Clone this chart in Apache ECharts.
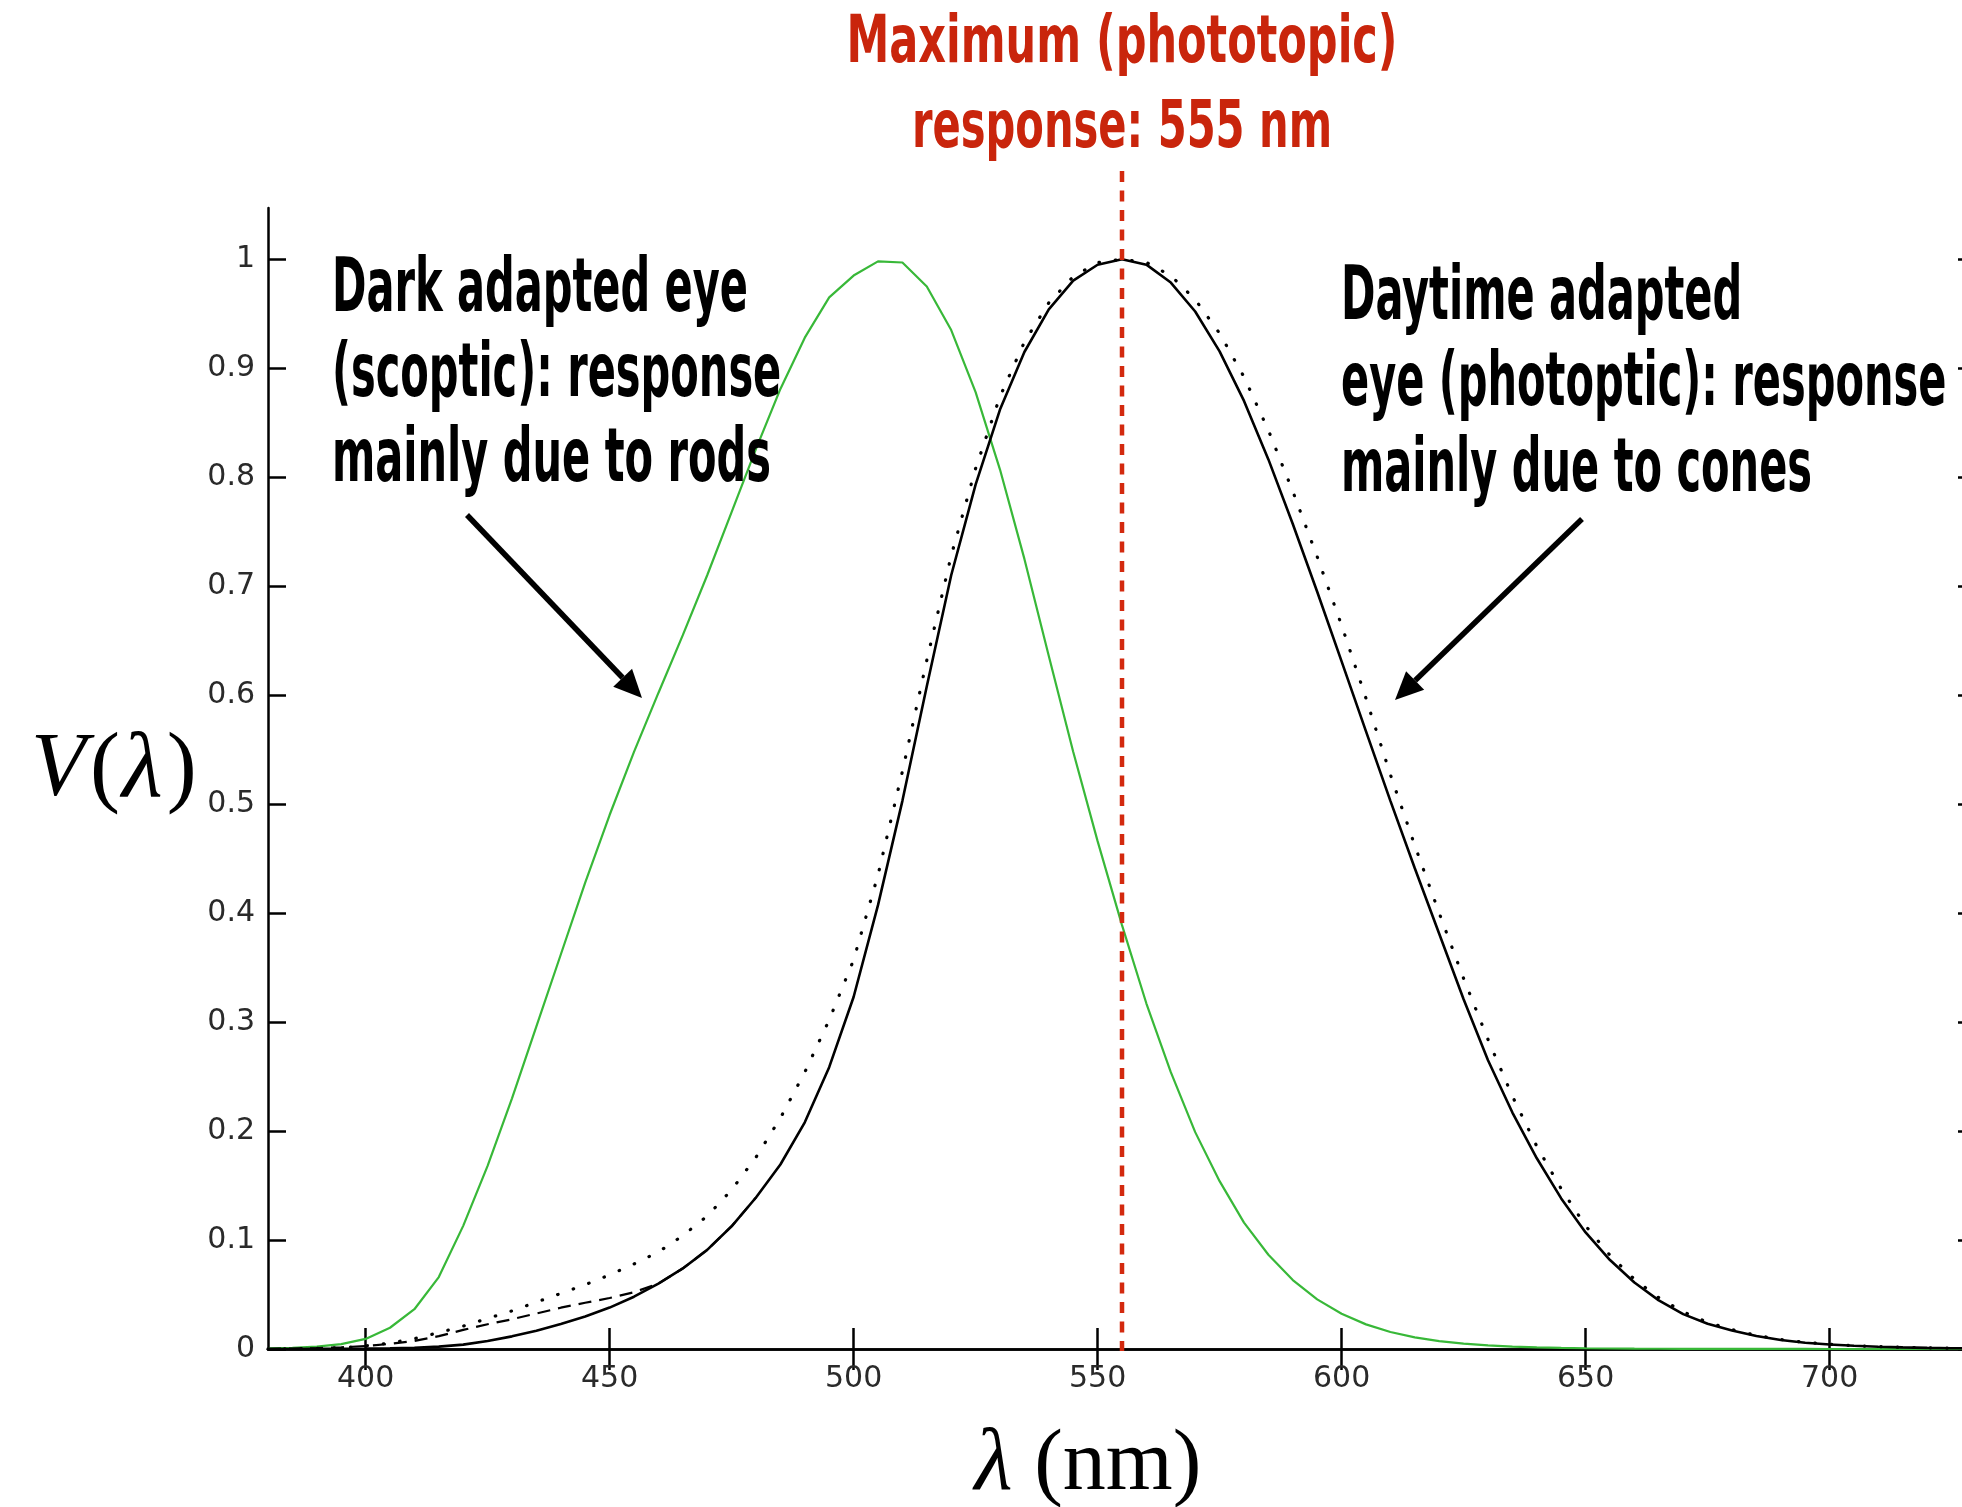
<!DOCTYPE html>
<html><head><meta charset="utf-8">
<script src="https://cdn.jsdelivr.net/npm/echarts@6/dist/echarts.min.js"></script>
<style>html,body{margin:0;padding:0;background:#fff;overflow:hidden}#c{width:1962px;height:1507px}</style>
</head><body><div id="c"></div>
<script>
// wavelengths (nm), 5 nm steps
const wavelengths = [380,385,390,395,400,405,410,415,420,425,430,435,440,445,450,455,460,465,470,475,480,485,490,495,500,505,510,515,520,525,530,535,540,545,550,555,560,565,570,575,580,585,590,595,600,605,610,615,620,625,630,635,640,645,650,655,660,665,670,675,680,685,690,695,700,705,710,715,720,725,730];
// dark adapted (scotopic) response - green
const scotopic = [0.000589,0.001108,0.002209,0.00453,0.00929,0.0195,0.0365,0.066,0.113,0.168,0.23,0.296,0.362,0.428,0.49,0.548,0.602,0.655,0.71,0.768,0.826,0.881,0.928,0.965,0.985,0.998,0.997,0.975,0.935,0.878,0.807,0.725,0.636,0.548,0.466,0.389,0.317,0.254,0.199,0.154,0.116,0.0865,0.0633,0.0455,0.0323,0.0226,0.01563,0.0107,0.00727,0.00492,0.00331,0.00222,0.001497,0.001005,0.000677,0.000459,0.000313,0.000215,0.000148,0.000103,0.000072,0.00005,0.000035,0.000025,0.000018,0.000013,0.000009,0.000007,0.000005,0.000004,0.000003];
// daytime adapted (photopic) response - solid black
const photopic = [0.000039,0.000064,0.00012,0.000217,0.000396,0.00064,0.00121,0.00218,0.004,0.0073,0.0116,0.01684,0.023,0.0298,0.038,0.048,0.06,0.0739,0.09098,0.1126,0.13902,0.1693,0.20802,0.2586,0.323,0.4073,0.503,0.6082,0.71,0.7932,0.862,0.91485,0.954,0.9803,0.99495,1.0,0.995,0.9786,0.952,0.9154,0.87,0.8163,0.757,0.6949,0.631,0.5668,0.503,0.4412,0.381,0.321,0.265,0.217,0.175,0.1382,0.107,0.0816,0.061,0.04458,0.032,0.0232,0.017,0.01192,0.00821,0.005723,0.004102,0.002929,0.002091,0.001484,0.001047,0.00074,0.00052];
// dashed black variant (short-wavelength end)
const dashedWl = [380,385,390,395,400,405,410,415,420,425,430,435,440,445,450,455,460,465,470,475,480];
const dashedV = [0.0002,0.0004,0.0008,0.0015,0.0028,0.0047,0.0074,0.0118,0.0175,0.0227,0.0273,0.0326,0.0379,0.0424,0.0468,0.0521,0.06,0.0739,0.091,0.1126,0.139];
// dotted black variant
const dottedV = [0.0001,0.0002,0.0005,0.0012,0.0028,0.0055,0.0095,0.015,0.021,0.028,0.035,0.043,0.051,0.059,0.068,0.078,0.089,0.104,0.122,0.146,0.176,0.212,0.254,0.302,0.357,0.435,0.53,0.632,0.728,0.808,0.874,0.924,0.96,0.984,0.997,1.0,0.997,0.985,0.963,0.932,0.892,0.843,0.787,0.727,0.664,0.597,0.527,0.462,0.4,0.34,0.284,0.232,0.186,0.147,0.113,0.086,0.064,0.047,0.034,0.0245,0.0178,0.0125,0.0087,0.0061,0.0043,0.0031,0.0022,0.0016,0.0011,0.0008,0.0006];
const xTicks = [400,450,500,550,600,650,700];
const yTicks = [0,0.1,0.2,0.3,0.4,0.5,0.6,0.7,0.8,0.9,1];
const peakWl = 555;

const zip = (xs, ys) => xs.map((x, i) => [x, ys[i]]);
const chart = echarts.init(document.getElementById('c'), null, {renderer: 'canvas'});

const tickFont = {fontFamily: 'DejaVu Sans', fontSize: 30, color: '#2a2a2a'};
const axLine = {show: true, lineStyle: {color: '#000', width: 2.5}};
const yFmt = v => (Math.abs(v) < 1e-9 ? '0' : Math.abs(v - 1) < 1e-9 ? '1' : v.toFixed(1));

chart.setOption({
  animation: false,
  backgroundColor: '#fff',
  grid: {left: 268, width: 1708, top: 208, height: 1141, containLabel: false, outerBoundsMode: 'none'},
  xAxis: [
    {type: 'value', min: 380, max: 730, position: 'bottom', axisLine: axLine,
     axisTick: {show: true, inside: true, length: 21, lineStyle: {color: '#000', width: 2.5}, customValues: xTicks},
     axisLabel: Object.assign({customValues: xTicks, margin: 15}, tickFont), splitLine: {show: false}},
    {type: 'value', min: 380, max: 730, position: 'top', axisLine: axLine,
     axisTick: {show: true, inside: true, length: 21, lineStyle: {color: '#000', width: 2.5}, customValues: xTicks},
     axisLabel: {show: false}, splitLine: {show: false}}
  ],
  yAxis: [
    {type: 'value', min: 0, max: 1.047, position: 'left', axisLine: axLine,
     axisTick: {show: true, inside: true, length: 18, lineStyle: {color: '#000', width: 2.5}, customValues: yTicks},
     axisLabel: Object.assign({customValues: yTicks, margin: 13, formatter: yFmt}, tickFont), splitLine: {show: false}},
    {type: 'value', min: 0, max: 1.047, position: 'right', axisLine: axLine,
     axisTick: {show: true, inside: true, length: 18, lineStyle: {color: '#000', width: 2.5}, customValues: yTicks},
     axisLabel: {show: false}, splitLine: {show: false}}
  ],
  series: [
    {type: 'line', name: 'scotopic', data: zip(wavelengths, scotopic), showSymbol: false, symbol: 'none',
     lineStyle: {color: '#38b838', width: 2.2}, z: 3},
    {type: 'line', name: 'photopic', data: zip(wavelengths, photopic), showSymbol: false, symbol: 'none',
     lineStyle: {color: '#000', width: 2.6}, z: 4},
    {type: 'line', name: 'dashed', data: zip(dashedWl, dashedV), showSymbol: false, symbol: 'none',
     lineStyle: {color: '#000', width: 2.2, type: [13, 8]}, z: 4},
    {type: 'line', name: 'dotted', data: zip(wavelengths, dottedV), showSymbol: false, symbol: 'none',
     lineStyle: {color: '#000', width: 3.2, type: [0.5, 16], cap: 'round'}, z: 4}
  ]
});

// ---- annotations ----
const ctx = document.createElement('canvas').getContext('2d');
const NARROW = '"Liberation Sans Narrow", "DejaVu Sans Condensed", "Arial Narrow", sans-serif';
function fitScale(text, size, target) {
  ctx.font = 'bold ' + size + 'px ' + NARROW;
  return target / ctx.measureText(text).width;
}
const annSize = 74, titleSize = 66;
const annScale = fitScale('Dark adapted eye', annSize, 416);
const titleScale1 = fitScale('Maximum (phototopic)', titleSize, 551);
const titleScale2 = fitScale('response: 555 nm', titleSize, 420);

function line(text, x, baseline, size, scale, color, align) {
  return {type: 'text', x: x, y: baseline, scaleX: scale, z: 100,
    style: {text: text, fontFamily: NARROW, fontWeight: 'bold', fontSize: size, fill: color,
      align: align || 'left', verticalAlign: 'bottom', lineHeight: size}};
}
function arrow(x1, y1, x2, y2) {
  const ang = Math.atan2(y2 - y1, x2 - x1), L = 28, W = 13;
  const bx = x2 - L * Math.cos(ang), by = y2 - L * Math.sin(ang);
  const px = -Math.sin(ang) * W, py = Math.cos(ang) * W;
  return [
    {type: 'line', z: 100, shape: {x1: x1, y1: y1, x2: bx, y2: by}, style: {stroke: '#000', lineWidth: 5.5}},
    {type: 'polygon', z: 100, shape: {points: [[x2, y2], [bx + px, by + py], [bx - px, by - py]]}, style: {fill: '#000'}}
  ];
}

const px555 = chart.convertToPixel({xAxisIndex: 0}, peakWl);
const py0 = chart.convertToPixel({yAxisIndex: 0}, 0);
const red = '#c9250c';
const bs = annSize * 0.2;

const g = [
  {type: 'line', z: 90, shape: {x1: px555, y1: 171, x2: px555, y2: py0 + 2},
   style: {stroke: '#d3290e', lineWidth: 4.5, lineDash: [11, 8.5]}},
  line('Maximum (phototopic)', px555, 65 + titleSize * 0.2, titleSize, titleScale1, red, 'center'),
  line('response: 555 nm', px555, 150 + titleSize * 0.2, titleSize, titleScale2, red, 'center'),
  line('Dark adapted eye', 332, 314 + bs, annSize, annScale, '#000'),
  line('(scoptic): response', 332, 399 + bs, annSize, annScale, '#000'),
  line('mainly due to rods', 332, 484 + bs, annSize, annScale, '#000'),
  line('Daytime adapted', 1341, 322 + bs, annSize, annScale, '#000'),
  line('eye (photoptic): response', 1341, 408 + bs, annSize, annScale, '#000'),
  line('mainly due to cones', 1341, 494 + bs, annSize, annScale, '#000'),
  {type: 'text', x: 31, y: 771, z: 100,
   style: {text: '{v|V}{n|(}{l|λ}{n|)}', verticalAlign: 'middle', align: 'left',
     rich: {v: {fontFamily: 'Liberation Serif', fontStyle: 'italic', fontSize: 90, fill: '#000', padding: [0, 4, 0, 0]},
            l: {fontFamily: 'Liberation Serif', fontStyle: 'italic', fontSize: 94, fill: '#000', padding: [0, 4, 0, 2]},
            n: {fontFamily: 'Liberation Serif', fontSize: 90, fill: '#000'}}}},
  {type: 'text', x: 1088, y: 1466, z: 100,
   style: {text: '{i|λ}{n| (nm)}', verticalAlign: 'middle', align: 'center',
     rich: {i: {fontFamily: 'Liberation Serif', fontStyle: 'italic', fontSize: 88, fill: '#000'},
            n: {fontFamily: 'Liberation Serif', fontSize: 86, fill: '#000'}}}}
].concat(arrow(467, 515, 642, 698), arrow(1582, 519, 1395, 700));

chart.setOption({graphic: g});
</script>
</body></html>
